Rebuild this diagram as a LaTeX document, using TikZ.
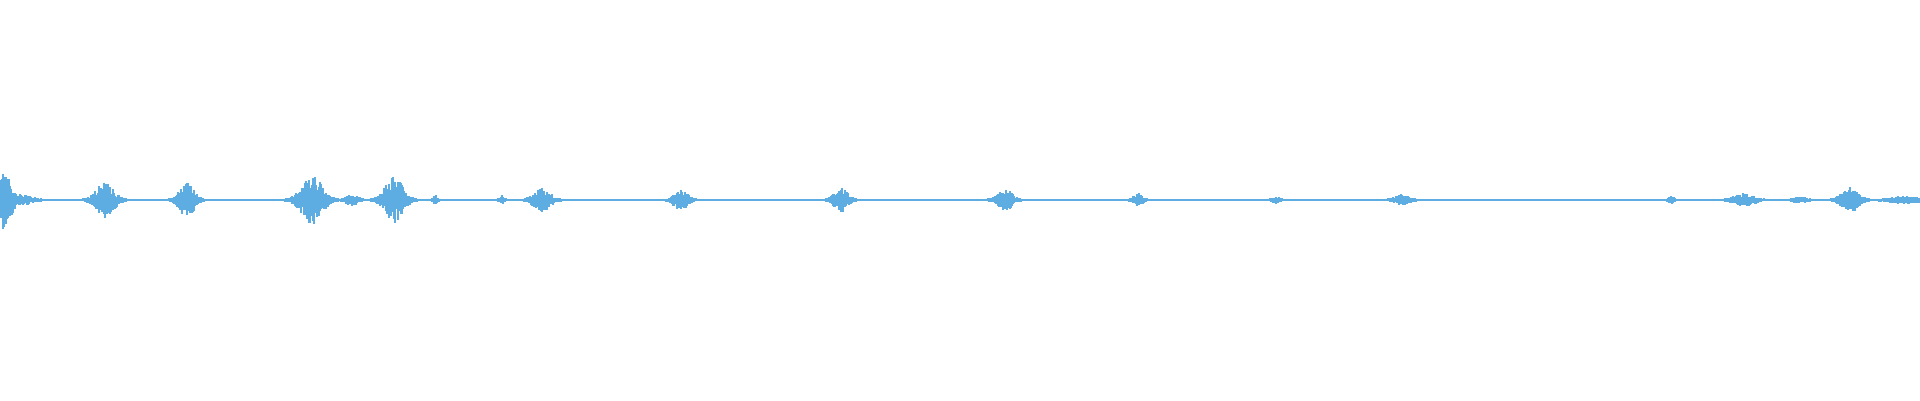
\documentclass[tikz,border=0pt]{standalone}
\definecolor{wave}{HTML}{5DADE2}
\begin{document}
\begin{tikzpicture}[x=1pt,y=-1pt,bar/.style={wave,line width=1.3pt}]
\useasboundingbox (0,0) rectangle (1920,400);
\pgfmathsetseed{7}
\fill[wave] (0,199) rectangle (1920,201);
\fill[wave] (1890,197.5) rectangle (1920,202.5);
\foreach \c/\a/\w in {4/28/10, 20/6/14, 105/17/12, 187/17/10, 312/24/14, 352/5/8, 394/23/12, 435/5/3, 502/4/3, 542/12/11, 681/10/9, 841/12/9, 1005/10/10, 1138/6/6, 1276/3/5, 1402/5/10, 1671/3/4, 1744/6/14, 1800/3/8, 1850/12/11, 1905/3/20}{
  \pgfmathtruncatemacro{\xa}{max(0,\c-2.5*\w)}
  \pgfmathtruncatemacro{\xb}{min(1919,\c+2.5*\w)}
  \foreach \x in {\xa,...,\xb}{
    \pgfmathsetmacro{\e}{\a*exp(-((\x-\c)/\w)^2)}
    \pgfmathsetmacro{\up}{1+\e*(0.65+0.35*rand)}
    \pgfmathsetmacro{\dn}{1+\e*(0.65+0.35*rand)}
    \draw[bar] (\x,200-\up) -- (\x,200+\dn);
  }
}
\end{tikzpicture}
\end{document}
